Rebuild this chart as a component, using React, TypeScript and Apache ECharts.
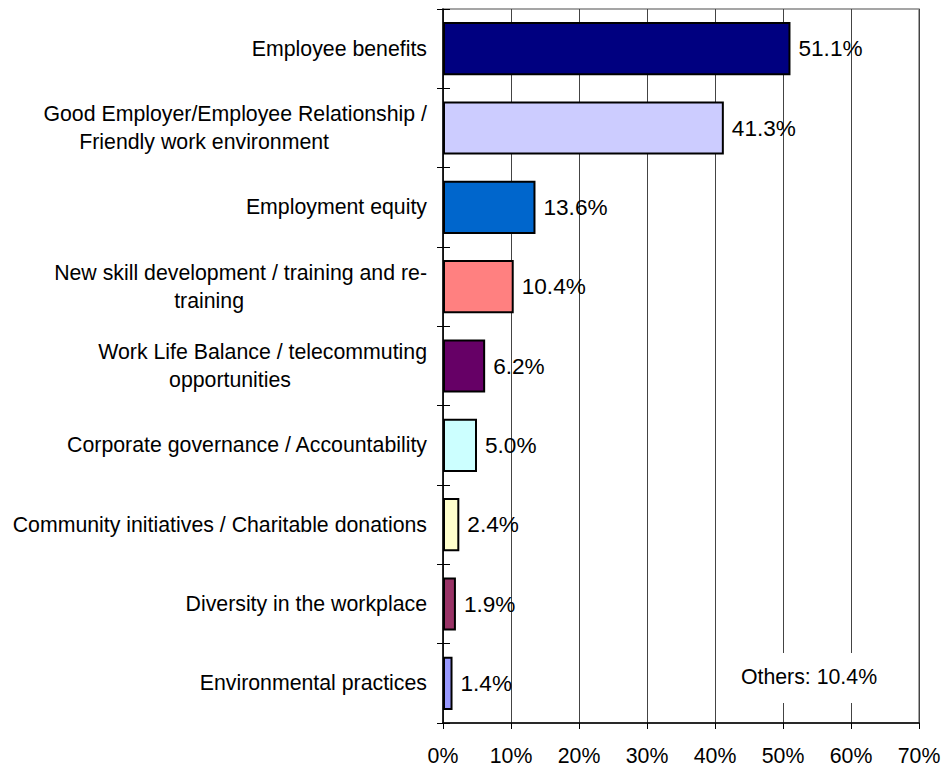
import React, { useEffect, useRef } from "react";
import * as echarts from "echarts";

const categories = [
  "Employee benefits",
  "Good Employer/Employee Relationship /\nFriendly work environment",
  "Employment equity",
  "New skill development / training and re-\ntraining",
  "Work Life Balance / telecommuting\nopportunities",
  "Corporate governance / Accountability",
  "Community initiatives / Charitable donations",
  "Diversity in the workplace",
  "Environmental practices",
];
const values = [51.1, 41.3, 13.6, 10.4, 6.2, 5.0, 2.4, 1.9, 1.4];
const barColors = [
  "#000080",
  "#CCCCFF",
  "#0066CC",
  "#FF8080",
  "#660066",
  "#CCFFFF",
  "#FFFFCC",
  "#993366",
  "#9999FF",
];
const xTicks = [0, 10, 20, 30, 40, 50, 60, 70];
const othersLabel = "Others";
const othersValue = 10.4;

// padding on the second line of wrapped labels (style only)
const secondLinePad: Record<number, number> = { 1: 98, 3: 183, 4: 136 };

const FONT = "Arial, 'Liberation Sans', sans-serif";

export default function App() {
  const ref = useRef<HTMLDivElement>(null);
  useEffect(() => {
    if (!ref.current) return;
    const chart = echarts.init(ref.current, null, { renderer: "svg" });
    const rich: Record<string, any> = {
      a: { fontSize: 21.3, fontFamily: FONT, color: "#000", lineHeight: 28, align: "right" },
    };
    Object.keys(secondLinePad).forEach((k) => {
      rich["p" + k] = {
        fontSize: 21.3,
        fontFamily: FONT,
        color: "#000",
        lineHeight: 28,
        align: "right",
        padding: [0, secondLinePad[Number(k)], 0, 0],
      };
    });
    chart.setOption({
      animation: false,
      backgroundColor: "#fff",
      grid: { left: 443, right: 25, top: 9, bottom: 44, show: true, borderColor: "#888", borderWidth: 1.5 },
      xAxis: {
        type: "value",
        min: xTicks[0],
        max: xTicks[xTicks.length - 1],
        interval: 10,
        axisLine: { show: true, lineStyle: { color: "#000", width: 1.5 } },
        axisTick: { show: true, length: 6, lineStyle: { color: "#000" } },
        splitLine: { show: true, lineStyle: { color: "#444", width: 1 } },
        axisLabel: {
          formatter: (v: number) => v + "%",
          fontSize: 21.3,
          fontFamily: FONT,
          color: "#000",
          margin: 22,
        },
      },
      yAxis: [
        {
          type: "category",
          data: categories,
          inverse: true,
          axisLine: { show: true, lineStyle: { color: "#000", width: 1.5 } },
          axisTick: { show: true, length: 6, lineStyle: { color: "#000" } },
          axisLabel: {
            margin: 16,
            formatter: (v: string, idx: number) => {
              const parts = v.split("\n");
              if (parts.length === 1) return "{a|" + v + "}";
              return "{a|" + parts[0] + "}\n{p" + idx + "|" + parts[1] + "}";
            },
            rich,
          },
        },
        {
          type: "category",
          data: categories,
          inverse: true,
          position: "left",
          axisLine: { show: false },
          axisTick: { show: true, inside: true, length: 7, lineStyle: { color: "#000" } },
          axisLabel: { show: false },
        },
      ],
      series: [
        {
          type: "bar",
          yAxisIndex: 0,
          barCategoryGap: "33%",
          data: values.map((v, i) => ({
            value: v,
            itemStyle: { color: barColors[i], borderColor: "#000", borderWidth: 2 },
          })),
          label: {
            show: true,
            position: "right",
            distance: 8,
            formatter: (p: any) => Number(p.value).toFixed(1) + "%",
            fontSize: 22.6,
            fontFamily: FONT,
            color: "#000",
          },
        },
      ],
      graphic: [
        {
          type: "rect",
          z: 100,
          shape: { x: 738, y: 653, width: 144, height: 50 },
          style: { fill: "#fff" },
        },
        {
          type: "text",
          z: 101,
          x: 809,
          y: 677,
          style: {
            text: othersLabel + ": " + othersValue.toFixed(1) + "%",
            fontSize: 21.3,
            fontFamily: FONT,
            fill: "#000",
            align: "center",
            verticalAlign: "middle",
          },
        },
      ],
    });
    return () => chart.dispose();
  }, []);
  return (
    <div
      ref={ref}
      style={{ position: "absolute", left: 0, top: 0, width: 944, height: 767 }}
    />
  );
}
